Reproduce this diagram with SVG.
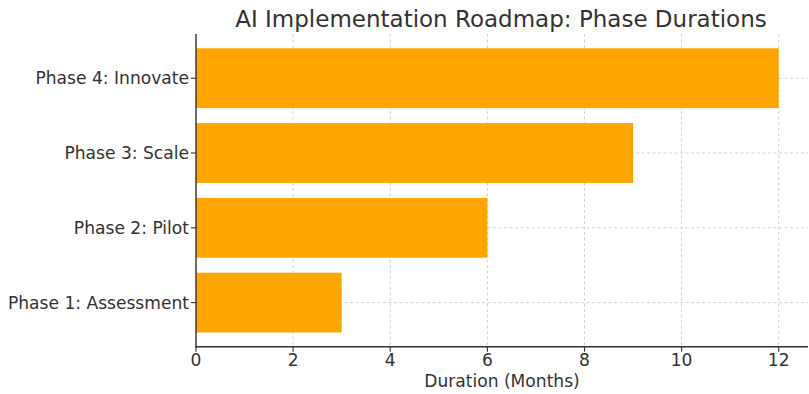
<svg xmlns="http://www.w3.org/2000/svg" width="809" height="394" viewBox="0 0 809 394">
<style>
text{font-family:"DejaVu Sans","Liberation Sans",sans-serif;fill:#333333}
.tl{font-size:17.1px}
.grid{stroke:#cccccc;stroke-width:0.9;stroke-dasharray:3,2.5;fill:none}
.bar{fill:#FFA500}
.spine{stroke:#333333;stroke-width:1.4;fill:none}
.tick{stroke:#333333;stroke-width:1.1}
</style>
<rect width="809" height="394" fill="#ffffff"/>
<g id="grid">
<line class="grid" x1="196" y1="34" x2="196" y2="347"/>
<line class="grid" x1="293.1" y1="34" x2="293.1" y2="347"/>
<line class="grid" x1="390.2" y1="34" x2="390.2" y2="347"/>
<line class="grid" x1="487.4" y1="34" x2="487.4" y2="347"/>
<line class="grid" x1="584.5" y1="34" x2="584.5" y2="347"/>
<line class="grid" x1="681.6" y1="34" x2="681.6" y2="347"/>
<line class="grid" x1="778.7" y1="34" x2="778.7" y2="347"/>
<line class="grid" x1="196" y1="302.6" x2="808" y2="302.6"/>
<line class="grid" x1="196" y1="227.8" x2="808" y2="227.8"/>
<line class="grid" x1="196" y1="153" x2="808" y2="153"/>
<line class="grid" x1="196" y1="78.2" x2="808" y2="78.2"/>
</g>
<g id="bar-phase1"><rect class="bar" x="196" y="272.7" width="145.7" height="59.8"/></g>
<g id="bar-phase2"><rect class="bar" x="196" y="197.9" width="291.4" height="59.8"/></g>
<g id="bar-phase3"><rect class="bar" x="196" y="123.1" width="437.1" height="59.8"/></g>
<g id="bar-phase4"><rect class="bar" x="196" y="48.3" width="582.7" height="59.8"/></g>
<g id="axes">
<line class="spine" x1="196" y1="34" x2="196" y2="347.4"/>
<line class="spine" x1="195.3" y1="346.7" x2="808" y2="346.7"/>
<line class="tick" x1="191" y1="302.6" x2="196" y2="302.6"/>
<line class="tick" x1="191" y1="227.8" x2="196" y2="227.8"/>
<line class="tick" x1="191" y1="153" x2="196" y2="153"/>
<line class="tick" x1="191" y1="78.2" x2="196" y2="78.2"/>
<line class="tick" x1="196" y1="346.7" x2="196" y2="351.7"/>
<line class="tick" x1="293.1" y1="346.7" x2="293.1" y2="351.7"/>
<line class="tick" x1="390.2" y1="346.7" x2="390.2" y2="351.7"/>
<line class="tick" x1="487.4" y1="346.7" x2="487.4" y2="351.7"/>
<line class="tick" x1="584.5" y1="346.7" x2="584.5" y2="351.7"/>
<line class="tick" x1="681.6" y1="346.7" x2="681.6" y2="351.7"/>
<line class="tick" x1="778.7" y1="346.7" x2="778.7" y2="351.7"/>
</g>
<g id="labels">
<text class="tl" x="189" y="308.7" text-anchor="end">Phase 1: Assessment</text>
<text class="tl" x="189" y="233.9" text-anchor="end">Phase 2: Pilot</text>
<text class="tl" x="189" y="159.1" text-anchor="end">Phase 3: Scale</text>
<text class="tl" x="189" y="84.3" text-anchor="end">Phase 4: Innovate</text>
<text class="tl" x="196" y="365.8" text-anchor="middle">0</text>
<text class="tl" x="293.1" y="365.8" text-anchor="middle">2</text>
<text class="tl" x="390.2" y="365.8" text-anchor="middle">4</text>
<text class="tl" x="487.4" y="365.8" text-anchor="middle">6</text>
<text class="tl" x="584.5" y="365.8" text-anchor="middle">8</text>
<text class="tl" x="681.6" y="365.8" text-anchor="middle">10</text>
<text class="tl" x="778.7" y="365.8" text-anchor="middle">12</text>
<text class="tl" x="502" y="387.3" text-anchor="middle">Duration (Months)</text>
<text x="501" y="27" text-anchor="middle" font-size="23px">AI Implementation Roadmap: Phase Durations</text>
</g>
</svg>
